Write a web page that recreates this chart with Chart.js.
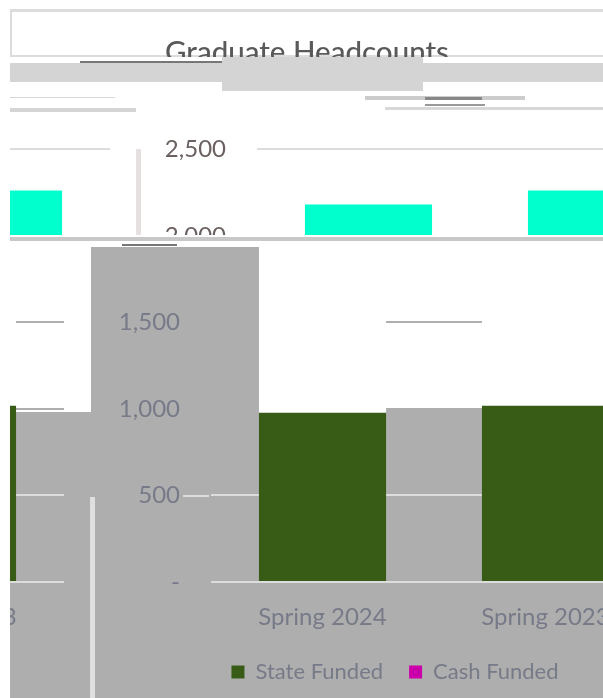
<!DOCTYPE html>
<html>
<head>
<meta charset="utf-8">
<title>Graduate Headcounts</title>
<script src="https://cdn.jsdelivr.net/npm/chart.js@4"></script>
<style>
  html, body { margin: 0; padding: 0; background: #fff; overflow: hidden; }
  #page { position: relative; width: 603px; height: 698px; overflow: hidden; }
  .patch { position: absolute; }
  .strip { position: absolute; left: 10px; width: 593px; overflow: hidden; }
  .strip canvas { position: absolute; }
</style>
</head>
<body>
<div id="page"></div>
<script>
const categories = ["Spring 2024", "Spring 2023"];
const stateFunded = [978, 1018];
const cashFunded = [1204, 1245];
const yTicks = [0, 500, 1000, 1500, 2000, 2500];
const yTickLabels = ["-", "500", "1,000", "1,500", "2,000", "2,500"];
const seriesNames = ["State Funded", "Cash Funded"];
const legendColors = ["#385c16", "#cc00aa"];

const chartFont = "Lato, 'Open Sans', sans-serif";
const page = document.getElementById("page");

// the picture is torn: grey blocks behind the plot, noise bands across it
const patches = [
    [10, 581, 593, 117, "#aeaeae"],
    [91, 247, 168, 334, "#aeaeae"],
    [15, 412, 76, 169, "#aeaeae"],
    [386, 410, 97, 171, "#aeaeae"],
    [183, 495, 26, 2, "#dcdcdc"],
    [90, 497, 5, 201, "#dfdfdf"],
    [136, 149, 5, 86, "#e6e0e0"],
    [10, 9, 593, 3, "#dcdcdc"],
    [10, 9, 2, 47, "#dcdcdc"],
    [10, 55, 593, 2, "#dcdcdc"],
    [10, 63, 593, 19, "#d4d4d4"],
    [222, 57, 201, 34, "#d4d4d4"],
    [80, 61, 142, 2, "#777777"],
    [10, 108, 126, 4, "#d4d4d4"],
    [10, 97, 105, 1, "#d8d8d8"],
    [365, 96, 160, 4, "#cccccc"],
    [425, 97, 57, 3, "#888888"],
    [425, 104, 60, 2, "#999999"],
    [385, 107, 218, 3, "#d8d8d8"],
    [10, 237, 593, 4, "#c8c8c8"],
    [122, 244, 55, 2, "#777777"]
];
patches.forEach(p => {
    const div = document.createElement("div");
    div.className = "patch";
    div.style.cssText = `left:${p[0]}px;top:${p[1]}px;width:${p[2]}px;height:${p[3]}px;background:${p[4]}`;
    page.appendChild(div);
});

// each strip shows the same chart at its own horizontal shift, wrapping at 593px
const strips = [
    { top: 0, height: 57, left: 12, cash: "#00ffcc", text: "#595959" },
    { top: 70, height: 165, left: 138, cash: "#00ffcc", text: "#6b6060" },
    { top: 247, height: 451, left: 92, cash: "#ffffff", text: "#777a88" }
];

// legend sits a little right of the plot's centre in the reference
const nudgeLegend = {
    id: "nudgeLegend",
    afterLayout: chart => {
        chart.legend.left += 8;
        chart.legend.right += 8;
    }
};

const makeChart = (canvas, strip) => {
    new Chart(canvas, {
        type: "bar",
        plugins: [nudgeLegend],
        data: {
            labels: categories,
            datasets: [
                { label: seriesNames[0], data: stateFunded, backgroundColor: legendColors[0], categoryPercentage: 0.57, barPercentage: 1 },
                { label: seriesNames[1], data: cashFunded, backgroundColor: strip.cash, categoryPercentage: 0.57, barPercentage: 1 }
            ]
        },
        options: {
            responsive: false,
            animation: false,
            layout: { padding: { left: 25, right: 41, bottom: 5 } },
            plugins: {
                tooltip: { enabled: false },
                title: {
                    display: true,
                    text: "Graduate Headcounts",
                    color: "#595959",
                    font: { family: chartFont, size: 29.5, weight: "500" },
                    padding: { top: 35, bottom: 79 }
                },
                legend: {
                    position: "bottom",
                    labels: {
                        color: strip.text,
                        font: { family: chartFont, size: 22 },
                        boxWidth: 13,
                        boxHeight: 13,
                        padding: 26,
                        generateLabels: () => seriesNames.map((name, i) => ({
                            text: name, fillStyle: legendColors[i], strokeStyle: legendColors[i], lineWidth: 0, fontColor: strip.text, datasetIndex: i
                        }))
                    }
                }
            },
            scales: {
                x: {
                    stacked: true,
                    afterFit: scale => { scale.height = 53; },
                    grid: { display: false },
                    border: { display: false },
                    ticks: { color: strip.text, font: { family: chartFont, size: 24 }, padding: 13, maxRotation: 0 }
                },
                y: {
                    stacked: true,
                    min: 0,
                    max: 2500,
                    afterFit: scale => { scale.width = 94; },
                    afterBuildTicks: scale => { scale.ticks = yTicks.map(v => ({ value: v })); },
                    border: { display: false },
                    grid: {
                        drawTicks: false,
                        color: ctx => (ctx.tick.value === 1000 || ctx.tick.value === 1500) ? "#aeaeae" : "#dcdcdc",
                        lineWidth: 2
                    },
                    ticks: {
                        color: strip.text,
                        font: { family: chartFont, size: 24 },
                        padding: 31,
                        callback: value => yTickLabels[yTicks.indexOf(value)]
                    }
                }
            }
        }
    });
};

strips.forEach(strip => {
    const box = document.createElement("div");
    box.className = "strip";
    box.style.top = strip.top + "px";
    box.style.height = strip.height + "px";
    page.appendChild(box);
    [strip.left - 10, strip.left - 10 - 593].forEach(x => {
        const canvas = document.createElement("canvas");
        canvas.width = 606;
        canvas.height = 698;
        canvas.style.left = x + "px";
        canvas.style.top = -strip.top + "px";
        box.appendChild(canvas);
        makeChart(canvas, strip);
    });
});
</script>
</body>
</html>
